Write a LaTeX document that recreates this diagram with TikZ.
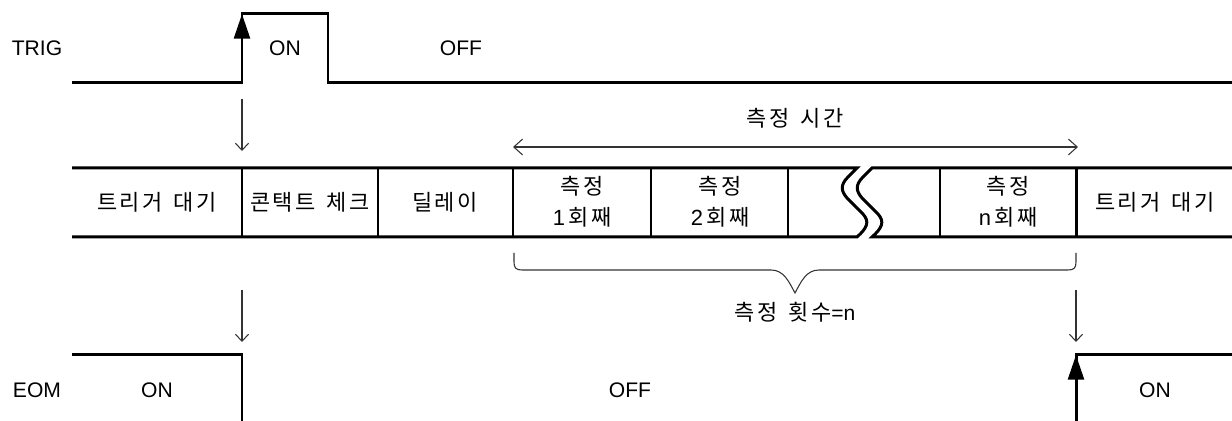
\documentclass[tikz,border=0pt]{standalone}
\usepackage{fontspec}
\setmainfont{Liberation Sans}
\newfontfamily\kr[LetterSpace=10,WordSpace=1.6]{Noto Sans CJK KR}
\usetikzlibrary{arrows.meta}

\begin{document}
\begin{tikzpicture}[x=0.02cm,y=-0.02cm,
  sig/.style={line width=1.7pt},
  edge/.style={sig,-{Triangle[length=14pt,width=9pt]}},
  guide/.style={line width=0.6pt,black!80},
  down/.style={guide,-{Straight Barb[length=4pt,width=7.5pt]}},
  txt/.style={font=\fontsize{12}{14}\selectfont,inner sep=0pt},
  kor/.style={font=\fontsize{12.5}{17.5}\selectfont\kr,inner sep=0pt,align=center}]
  \useasboundingbox (0,0) rectangle (1232,421);
  % TRIG signal
  \node[txt] (trig) at (37,48) {TRIG};
  \node[txt] (trigon) at (285,48) {ON};
  \node[txt] (trigoff) at (461,48) {OFF};
  \draw[sig] (72,83) -- (242,83) -- (242,14) -- (328,14) -- (328,83) -- (1232,83);
  \draw[edge] (242,83) -- (242,14);
  \draw[down] (242,99) -- (242,151);
  % sequence band
  \draw[sig] (72,168) -- (857,168) -- (848,177) .. controls (840,185) and (841,191) .. (847,198)
    -- (863,214) .. controls (870,222) and (867,228) .. (857,237) -- (72,237);
  \draw[sig] (1232,168) -- (872,168) -- (863,177) .. controls (855,185) and (856,191) .. (862,198)
    -- (878,214) .. controls (885,222) and (882,228) .. (872,237) -- (1232,237);
  \foreach \x in {242,378,513,651,788,940,1076}
    \draw[sig] (\x,168) -- (\x,237);
  \node[kor] (wait1) at (157,202) {트리거 대기};
  \node[kor] (check) at (310,202) {콘택트 체크};
  \node[kor] (delay) at (445,202) {딜레이};
  \node[kor] (meas1) at (582,202) {측정\\{\rmfamily 1}\,회째};
  \node[kor] (meas2) at (720,202) {측정\\{\rmfamily 2}\,회째};
  \node[kor] (measn) at (1008,202) {측정\\{\rmfamily n}\,회째};
  \node[kor] (wait2) at (1155,202) {트리거 대기};
  % measuring time
  \coordinate (tstart) at (513,147);
  \coordinate (tend) at (1078,147);
  \draw[guide,{Straight Barb[length=5pt,width=9pt]}-{Straight Barb[length=5pt,width=9pt]}] (tstart) -- (tend);
  \node[kor] (mtime) at (795,118) {측정 시간};
  % brace for count
  \coordinate (bl) at (514,253);
  \coordinate (br) at (1076,253);
  \coordinate (btip) at (795,293);
  \draw[guide] (bl) -- (514,262) .. controls (514,268) and (516,270) .. (522,270) -- (771,270)
    .. controls (784,270) and (789,282) .. (btip) .. controls (801,282) and (806,270) .. (819,270)
    -- (1068,270) .. controls (1074,270) and (1076,268) .. (1076,262) -- (br);
  \node[txt] (count) at (795,312) {{\fontsize{12.5}{14}\kr 측정 횟수}=n};
  % EOM signal
  \draw[down] (242,290) -- (242,342);
  \draw[down] (1076,290) -- (1076,342);
  \node[txt] (eom) at (37,390) {EOM};
  \node[txt] (eomon) at (157,390) {ON};
  \node[txt] (eomoff) at (630,390) {OFF};
  \node[txt] (eomon2) at (1155,390) {ON};
  \draw[sig] (72,355) -- (242,355) -- (242,421);
  \draw[sig] (1232,355) -- (1076,355) -- (1076,421);
  \draw[edge] (1076,421) -- (1076,355);
\end{tikzpicture}
\end{document}
